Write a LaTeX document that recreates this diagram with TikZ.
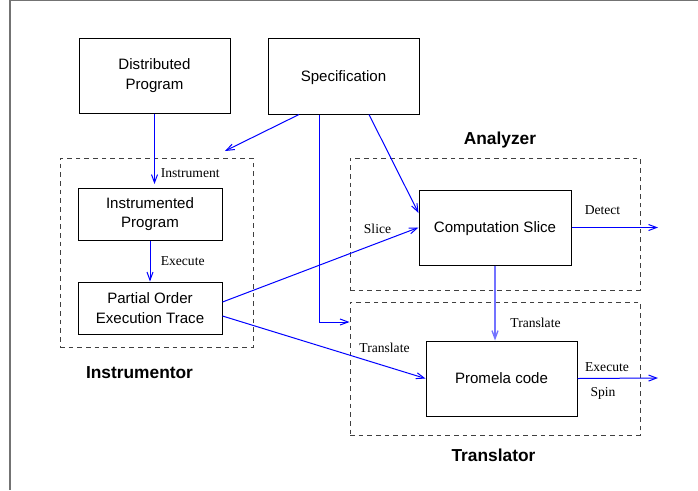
\documentclass[tikz,border=0pt]{standalone}
\usepackage{fontspec}
\setmainfont{Liberation Serif}
\setsansfont{Liberation Sans}
\usetikzlibrary{arrows.meta,calc}

\tikzset{
  box/.style={draw=black, line width=0.75pt, inner sep=0pt, align=center,
    font=\sffamily\fontsize{11.3}{14.5}\selectfont},
  onelinebox/.style={box, text depth=0pt},
  group/.style={draw=black!75, line width=0.75pt, dash pattern=on 3.5pt off 3pt, inner sep=0pt},
  grouplabel/.style={font=\sffamily\bfseries\fontsize{13}{15}\selectfont},
  edgelabel/.style={font=\rmfamily\fontsize{10.2}{12}\selectfont, inner sep=0pt},
  flow/.style={draw=blue, line width=0.75pt, -{Straight Barb[length=6pt,width=4.5pt]}},
  thickflow/.style={draw=blue!55, line width=1.5pt, -{Straight Barb[length=6pt,width=4.5pt,line width=1pt]}},
}

\begin{document}
\begin{tikzpicture}[x=0.75pt, y=-0.75pt]
  \useasboundingbox (0,0) rectangle (698,490);

  % outer frame (top and left edges)
  \draw[black!55, line width=1.2pt] (10,490) -- (10,0.6) -- (698,0.6);

  % dashed component areas
  \node[group, minimum width=193*0.75pt, minimum height=189*0.75pt] (instr) at (156.5,252.5) {};
  \node[group, minimum width=290*0.75pt, minimum height=132*0.75pt] (analyzer) at (495,224) {};
  \node[group, minimum width=290*0.75pt, minimum height=133*0.75pt] (transl) at (495,368.5) {};

  \node[grouplabel] (instrlabel) at (139.5,373) {Instrumentor};
  \node[grouplabel] (analabel) at (500,140) {Analyzer};
  \node[grouplabel] (transllabel) at (493.5,455) {Translator};

  % boxes
  \node[box, minimum width=151*0.75pt, minimum height=75*0.75pt] (dist) at (154.5,75.5) {Distributed\\ Program};
  \node[onelinebox, minimum width=151*0.75pt, minimum height=76*0.75pt] (spec) at (343.5,76) {Specification};
  \node[box, minimum width=144*0.75pt, minimum height=52*0.75pt] (instprog) at (150,214) {Instrumented\\ Program};
  \node[box, minimum width=144*0.75pt, minimum height=52*0.75pt] (trace) at (150,308) {Partial Order\\ Execution Trace};
  \node[onelinebox, minimum width=152*0.75pt, minimum height=75*0.75pt] (slice) at (495,227.5) {Computation Slice};
  \node[onelinebox, minimum width=151*0.75pt, minimum height=75*0.75pt] (promela) at (501.5,378.5) {Promela code};

  % free ends of connectors
  \coordinate (instrin) at (154.5,184);
  \coordinate (specin) at (225,151);
  \coordinate (detectout) at (658,227.5);
  \coordinate (spinout) at (658,378);

  % connectors
  \draw[flow] (dist.south) -- (instrin);
  \draw[flow] (spec.south -| 299,0) -- (specin);
  \draw[flow] (spec.south -| 319,0) |- (transl.west |- 0,322);
  \draw[flow] (spec.south -| 369,0) -- (slice.west |- 0,213);
  \draw[flow] (instprog.south) -- (trace.north);
  \draw[flow] (trace.east |- 0,302) -- (slice.west);
  \draw[flow] (trace.east |- 0,316) -- (promela.west);
  \draw[thickflow] (slice.south) -- (slice.south |- promela.north);
  \draw[flow] (slice.east) -- (detectout);
  \draw[flow] (promela.east) -- (spinout);

  % connector labels
  \node[edgelabel, anchor=west] (linstr) at (160.5,173) {Instrument};
  \node[edgelabel, anchor=west] (lexec) at (160.5,261) {Execute};
  \node[edgelabel] (lslice) at (377.5,229) {Slice};
  \node[edgelabel] (ltransl) at (384.5,348) {Translate};
  \node[edgelabel] (ltransv) at (535.5,323) {Translate};
  \node[edgelabel] (ldetect) at (602.5,210) {Detect};
  \node[edgelabel] (lexecspin) at (607,367) {Execute};
  \node[edgelabel] (lspin) at (603,393) {Spin};
\end{tikzpicture}
\end{document}
